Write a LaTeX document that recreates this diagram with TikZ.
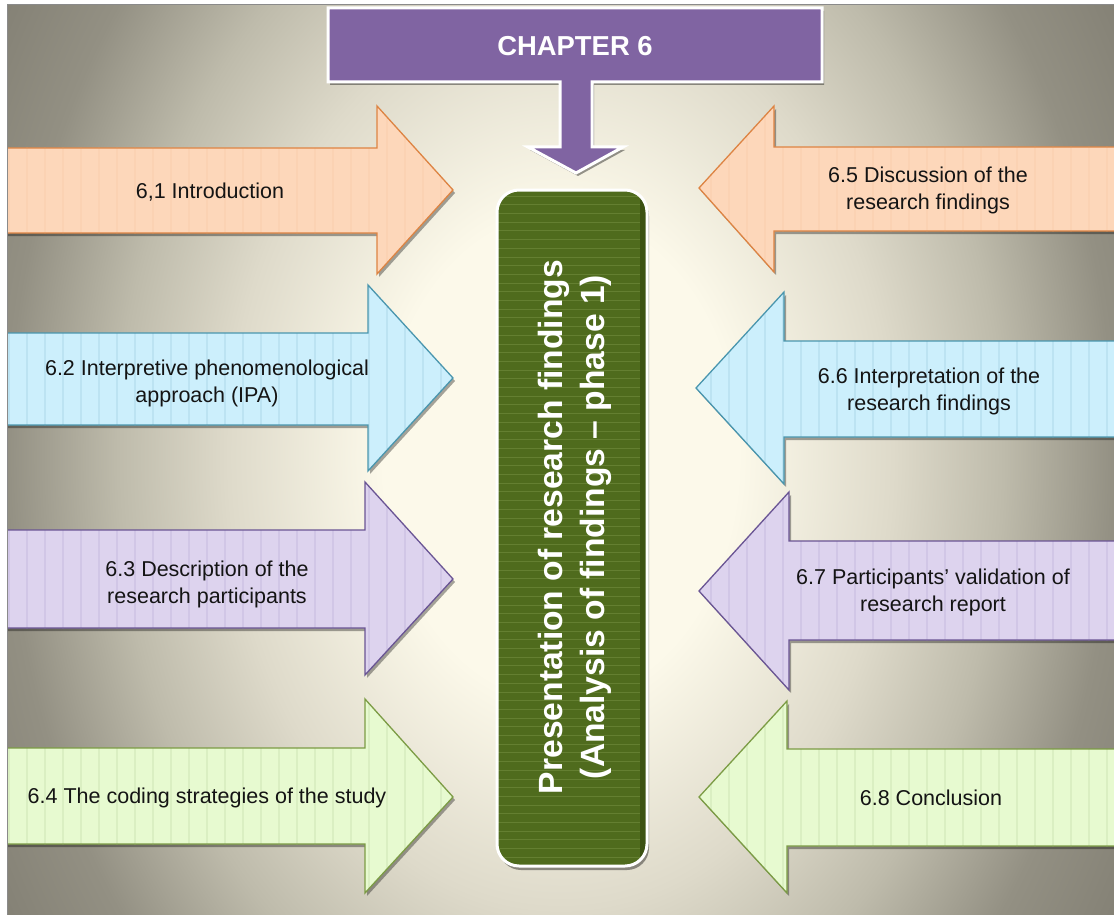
\documentclass[tikz,border=0pt]{standalone}
\usepackage{fontspec}
\setmainfont{Liberation Sans}
\usetikzlibrary{shadows}

% palette
\definecolor{cream}{HTML}{FCF9EA}
\definecolor{bgA}{HTML}{DEDACA}
\definecolor{bgB}{HTML}{BEBBAB}
\definecolor{bgC}{HTML}{939083}
\definecolor{bgD}{HTML}{7B786D}
\definecolor{bgE}{HTML}{6A675E}
\definecolor{slideedge}{HTML}{8A8A8A}
\definecolor{chapfill}{HTML}{8064A2}
\definecolor{peach}{HTML}{FDD7BA}
\definecolor{peachedge}{HTML}{DD8443}
\definecolor{peachstripe}{HTML}{FBD2B3}
\definecolor{sky}{HTML}{CCEFFC}
\definecolor{skyedge}{HTML}{4A96AE}
\definecolor{skystripe}{HTML}{BCE3F2}
\definecolor{lilac}{HTML}{DDD3EE}
\definecolor{lilacedge}{HTML}{6A5594}
\definecolor{lilacstripe}{HTML}{D1C6E6}
\definecolor{mint}{HTML}{E7FAD0}
\definecolor{mintedge}{HTML}{7C9C45}
\definecolor{mintstripe}{HTML}{DAEFC2}
\definecolor{olive}{HTML}{4F6B1D}
\definecolor{olivestripe}{HTML}{647F31}
\definecolor{olivedark}{HTML}{3C5213}
\definecolor{ink}{HTML}{141414}

\pgfdeclareradialshading{slidebg}{\pgfpoint{0bp}{0bp}}{%
  color(0bp)=(cream); color(8bp)=(cream); color(15bp)=(bgA);
  color(20bp)=(bgB); color(25bp)=(bgC); color(32bp)=(bgD); color(50bp)=(bgE)}

\tikzset{
  arrowshape/.style n args={3}{
    fill=#1, draw=#2, line width=1.3pt, line join=miter,
    drop shadow={shadow xshift=2pt, shadow yshift=-3pt, opacity=0.35, fill=black},
    path picture={
      \foreach \sx in {9,27,...,1125}
        \draw[#3, line width=1.6pt] (\sx,0) -- (\sx,915);
    }},
  lbl/.style={text=ink, align=center, font=\fontsize{21.5}{27}\selectfont, inner sep=0pt},
  chapshape/.style={fill=chapfill, draw=white, line width=3pt, line join=miter,
    drop shadow={shadow xshift=2pt, shadow yshift=-3pt, opacity=0.4, fill=black}},
  corebox/.style={fill=olive, draw=white, line width=3pt, rounded corners=22pt,
    drop shadow={shadow xshift=2pt, shadow yshift=-4pt, opacity=0.4, fill=black},
    path picture={
      \foreach \sy in {196,204.7,...,870}
        \draw[olivestripe, line width=0.8pt] (490,\sy) -- (655,\sy);
      \fill[olivedark] (640,180) rectangle (650,880);
    }},
}

\begin{document}
\begin{tikzpicture}[x=1pt,y=-1pt]
\useasboundingbox (0,0) rectangle (1114,915);
\fill[white] (0,0) rectangle (1114,915);

\begin{scope}
\clip (7,5) rectangle (1114,915);
\shade[shading=slidebg] (7,-296) rectangle (1114,1210);

% left column: arrows pointing right
\path[arrowshape={peach}{peachedge}{peachstripe}]
  (0,148) -- (377,148) -- (377,106) -- (453,190) -- (377,274) -- (377,233) -- (0,233) -- cycle;
\path[arrowshape={sky}{skyedge}{skystripe}]
  (0,333) -- (368,333) -- (368,285) -- (453,378) -- (368,471) -- (368,425) -- (0,425) -- cycle;
\path[arrowshape={lilac}{lilacedge}{lilacstripe}]
  (0,530) -- (365,530) -- (365,482) -- (453,579) -- (365,675) -- (365,628) -- (0,628) -- cycle;
\path[arrowshape={mint}{mintedge}{mintstripe}]
  (0,748) -- (365,748) -- (365,699) -- (453,797) -- (365,893) -- (365,844) -- (0,844) -- cycle;

% right column: arrows pointing left
\path[arrowshape={peach}{peachedge}{peachstripe}]
  (1130,147) -- (774,147) -- (774,106) -- (699,188) -- (774,272) -- (774,231) -- (1130,231) -- cycle;
\path[arrowshape={sky}{skyedge}{skystripe}]
  (1130,341) -- (784,341) -- (784,292) -- (696,388) -- (784,484) -- (784,437) -- (1130,437) -- cycle;
\path[arrowshape={lilac}{lilacedge}{lilacstripe}]
  (1130,541) -- (789,541) -- (789,492) -- (699,591) -- (789,690) -- (789,640) -- (1130,640) -- cycle;
\path[arrowshape={mint}{mintedge}{mintstripe}]
  (1130,749) -- (787,749) -- (787,701) -- (699,797) -- (787,893) -- (787,846) -- (1130,846) -- cycle;

% arrow labels
\node[lbl] (s61) at (210,192) {6,1 Introduction};
\node[lbl] (s62) at (207,383) {6.2 Interpretive phenomenological\\approach (IPA)};
\node[lbl] (s63) at (207,584) {6.3 Description of the\\research participants};
\node[lbl] (s64) at (207,798) {6.4 The coding strategies of the study};
\node[lbl] (s65) at (928,190) {6.5 Discussion of the\\research findings};
\node[lbl] (s66) at (929,391) {6.6 Interpretation of the\\research findings};
\node[lbl] (s67) at (933,592) {6.7 Participants’ validation of\\research report};
\node[lbl] (s68) at (931,798) {6.8 Conclusion};

% chapter banner with its downward arrow
\path[chapshape]
  (328,8) -- (822,8) -- (822,82) -- (592,82) -- (592,147) -- (623,147) -- (576,173)
  -- (528,147) -- (560,147) -- (560,82) -- (328,82) -- cycle;
\node[text=white, font=\bfseries\fontsize{27.4}{32}\selectfont, inner sep=0pt] (chap) at (575,46) {CHAPTER 6};

% central box
\path[corebox] (497,190) rectangle (647,866);
\node[text=white, align=center, rotate=90, inner sep=0pt,
      font=\bfseries\fontsize{33.6}{42}\selectfont] (core) at (575,527)
  {Presentation of research findings\\(Analysis of findings – phase 1)};
\end{scope}

\draw[slideedge, line width=1pt] (7,930) -- (7,5) -- (1130,5);
\end{tikzpicture}
\end{document}
